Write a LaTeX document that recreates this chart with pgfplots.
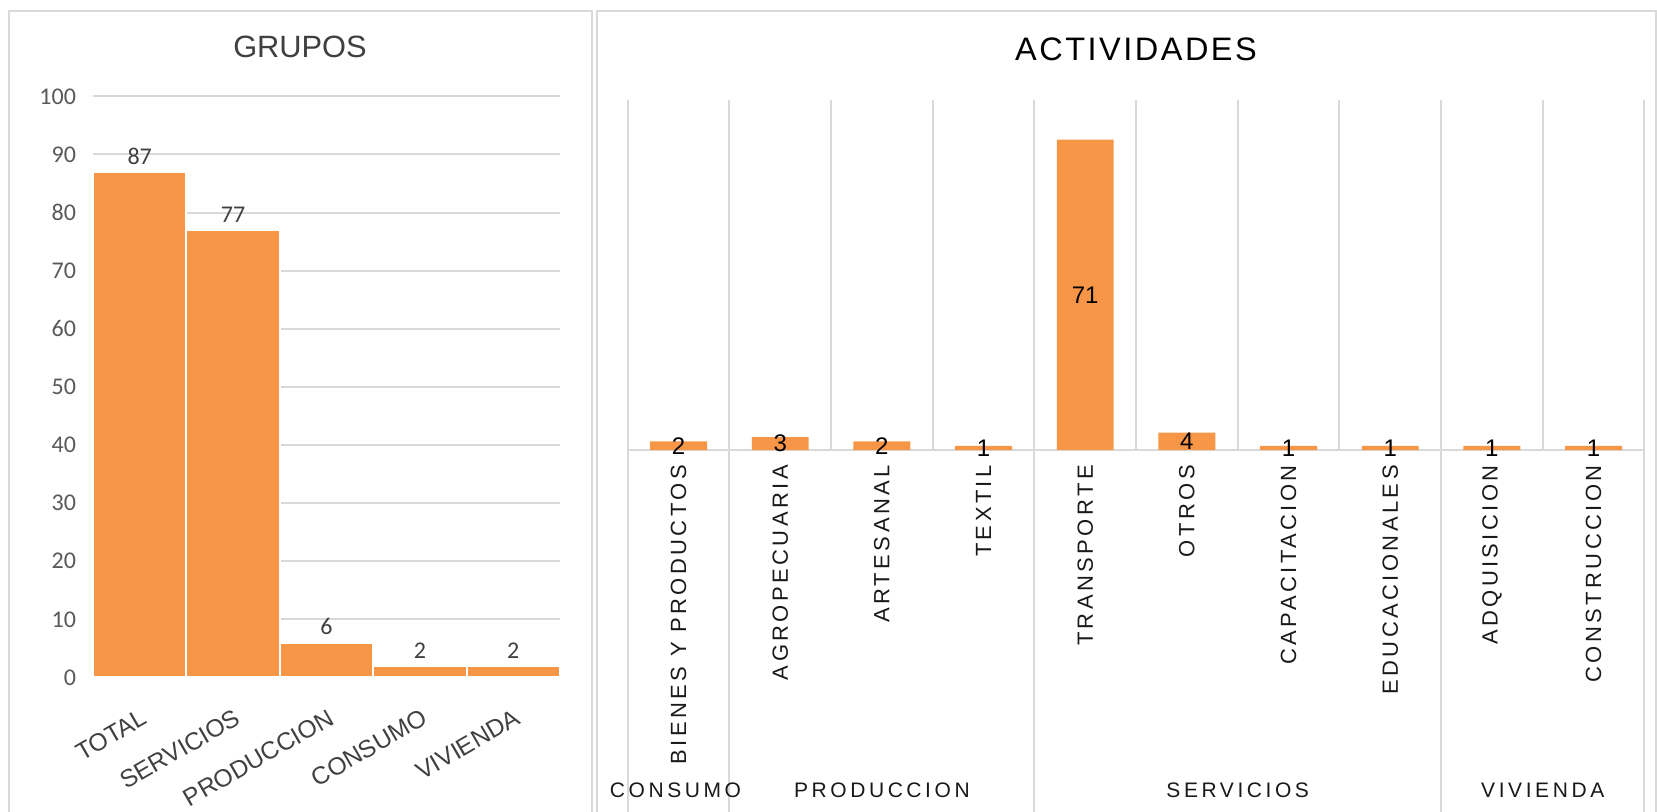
\documentclass[border=0pt]{standalone}
\usepackage{fontspec}
\setmainfont{Liberation Sans}
\newfontfamily\carlito{Carlito}
\newfontfamily\catfont{Liberation Sans}[LetterSpace=15.5]
\newfontfamily\titfont{Liberation Sans}[LetterSpace=7.7]
\newfontfamily\grpfont{Liberation Sans}[LetterSpace=17]
\usepackage{pgfplots}
\pgfplotsset{compat=1.18}
\definecolor{barc}{HTML}{F79646}
\definecolor{gridc}{HTML}{D9D9D9}
\definecolor{txt}{HTML}{404040}
\definecolor{tickc}{HTML}{595959}
\begin{document}
\begin{tikzpicture}
\useasboundingbox (0,0) rectangle (828.5pt,406pt);
\draw[gridc, line width=1pt] (4.5pt,-1pt) -- (4.5pt,400.5pt) -- (296pt,400.5pt) -- (296pt,-1pt);
\draw[gridc, line width=1pt] (298.5pt,-1pt) -- (298.5pt,400.5pt) -- (828pt,400.5pt) -- (828pt,-1pt);
\node[font=\fontsize{15.4}{18}\selectfont, text=txt] at (150pt,382.7pt) {GRUPOS};
\node[font=\titfont\fontsize{16.25}{19}\selectfont] at (568pt,381.4pt) {ACTIVIDADES};

\begin{axis}[
  at={(46.5pt,67.3pt)}, anchor=south west,
  width=233.5pt, height=290.5pt, scale only axis,
  xmin=-0.5, xmax=4.5, ymin=0, ymax=100,
  ytick={0,10,...,100},
  xtick={0,...,4},
  xticklabels={TOTAL,SERVICIOS,PRODUCCION,CONSUMO,VIVIENDA},
  ymajorgrids, major grid style={gridc, line width=1pt},
  axis line style={draw=none}, tick style={draw=none},
  /pgf/number format/assume math mode=true,
  yticklabel style={font=\carlito\fontsize{12}{14}\selectfont, text=tickc, xshift=-5pt},
  xticklabel style={font=\fontsize{12.3}{15}\selectfont, text=txt, xshift=1.5pt, yshift=-10.6pt, rotate=30, anchor=north east},
  clip=false,
]
\addplot[ybar, bar width=1, fill=barc, draw=white, line width=1pt,
  nodes near coords,
  every node near coord/.append style={font=\carlito\fontsize{12}{14}\selectfont, text=txt}]
  coordinates {(0,87) (1,77) (2,6) (3,2) (4,2)};
\end{axis}

\begin{axis}[
  at={(313.85pt,180.9pt)}, anchor=south west,
  width=508.35pt, height=175pt, scale only axis,
  xmin=0, xmax=10, ymin=0, ymax=80,
  ytick=\empty,
  xtick={0,1,...,10}, xticklabels={},
  xmajorgrids, major grid style={gridc, line width=1pt},
  extra x ticks={0.5,1.5,2.5,3.5,4.5,5.5,6.5,7.5,8.5,9.5},
  extra x tick labels={BIENES Y PRODUCTOS,AGROPECUARIA,ARTESANAL,TEXTIL,TRANSPORTE,OTROS,CAPACITACION,EDUCACIONALES,ADQUISICION,CONSTRUCCION},
  extra x tick style={grid=none, xticklabel style={yshift=-4pt, rotate=90, anchor=east, font=\catfont\fontsize{11}{13}\selectfont, text=black!90}},
  axis line style={draw=none}, tick style={draw=none},
  /pgf/number format/assume math mode=true,
  clip=false,
]
\draw[gridc, line width=1pt] (axis cs:0,0) -- (axis cs:10,0);
\draw[gridc, line width=1pt] (axis cs:0,0) -- ++(0,-182pt);
\draw[gridc, line width=1pt] (axis cs:1,0) -- ++(0,-182pt);
\draw[gridc, line width=1pt] (axis cs:4,0) -- ++(0,-182pt);
\draw[gridc, line width=1pt] (axis cs:8,0) -- ++(0,-182pt);
\draw[gridc, line width=1pt] (axis cs:10,0) -- ++(0,-182pt);
\addplot[ybar, bar width=0.56, fill=barc, draw=none] table[x=x, y=v] {
x v
0.5 2
1.5 3
2.5 2
3.5 1
4.5 71
5.5 4
6.5 1
7.5 1
8.5 1
9.5 1
};
\addplot[only marks, mark=none, nodes near coords, point meta=explicit,
  every node near coord/.append style={anchor=center, font=\fontsize{12}{14}\selectfont, text=black}]
  table[x=x, y=h, meta=v] {
x h v
0.5 1 2
1.5 1.5 3
2.5 1 2
3.5 0.5 1
4.5 35.5 71
5.5 2 4
6.5 0.5 1
7.5 0.5 1
8.5 0.5 1
9.5 0.5 1
};
\node[font=\grpfont\fontsize{10.5}{12}\selectfont, text=black!90] at ([yshift=-169.9pt]axis cs:0.47,0) {CONSUMO};
\node[font=\grpfont\fontsize{10.5}{12}\selectfont, text=black!90] at ([yshift=-169.9pt]axis cs:2.5,0) {PRODUCCION};
\node[font=\grpfont\fontsize{10.5}{12}\selectfont, text=black!90] at ([yshift=-169.9pt]axis cs:6,0) {SERVICIOS};
\node[font=\grpfont\fontsize{10.5}{12}\selectfont, text=black!90] at ([yshift=-169.9pt]axis cs:9,0) {VIVIENDA};
\end{axis}
\end{tikzpicture}
\end{document}
